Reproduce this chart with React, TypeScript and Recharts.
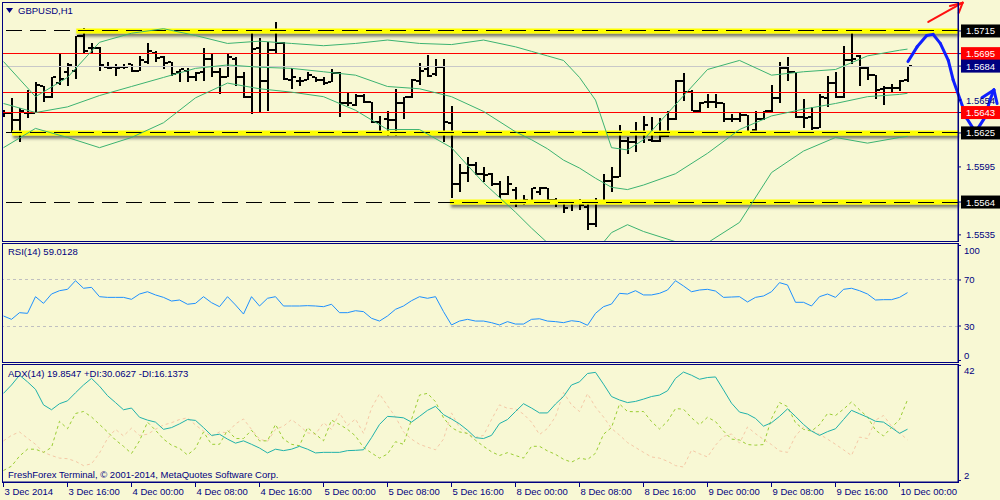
import React from "react";
import {
  ComposedChart,
  LineChart,
  Bar,
  Line,
  XAxis,
  YAxis,
  ReferenceLine,
} from "recharts";

// GBPUSD H1 bars, 3 Dec 08:00 .. 10 Dec 01:00
const barOpen = [
  1.5644, 1.5643, 1.5636, 1.5643, 1.5643, 1.5666, 1.5657, 1.5669, 1.5679, 1.568,
  1.5711, 1.57, 1.57, 1.5683, 1.5683, 1.5683, 1.5686, 1.568, 1.5688, 1.5696,
  1.5692, 1.5688, 1.5679, 1.568, 1.5674, 1.5679, 1.569, 1.5679, 1.5674, 1.569,
  1.5674, 1.5657, 1.57, 1.5671, 1.5698, 1.5704, 1.5672, 1.5671, 1.5672, 1.5674,
  1.5672, 1.567, 1.5678, 1.5651, 1.565, 1.5658, 1.5652, 1.5635, 1.5637, 1.5636,
  1.5651, 1.5657, 1.5671, 1.5681, 1.5677, 1.5683, 1.5634, 1.558, 1.559, 1.5597,
  1.5589, 1.5589, 1.558, 1.5571, 1.5575, 1.5565, 1.5564, 1.5573, 1.5576, 1.5566,
  1.5563, 1.5563, 1.5563, 1.556, 1.5545, 1.5564, 1.5583, 1.5586, 1.5618, 1.5617,
  1.5626, 1.5619, 1.5618, 1.5622, 1.5637, 1.5671, 1.5661, 1.5644, 1.5652, 1.5652,
  1.5651, 1.5637, 1.5637, 1.5641, 1.5628, 1.5637, 1.5644, 1.5656, 1.5682, 1.5679,
  1.5639, 1.5639, 1.5629, 1.5656, 1.5669, 1.5657, 1.5689, 1.5693, 1.5682, 1.5676,
  1.5664, 1.5665, 1.5665, 1.5672,
];
const barHigh = [
  1.5645, 1.5656, 1.5647, 1.5663, 1.567, 1.5666, 1.5674, 1.5696, 1.5687, 1.5711,
  1.5718, 1.5704, 1.5701, 1.5688, 1.5686, 1.5686, 1.5686, 1.5693, 1.5704, 1.5697,
  1.5693, 1.5688, 1.5681, 1.5682, 1.5679, 1.57, 1.5695, 1.5682, 1.5696, 1.5692,
  1.5679, 1.5715, 1.5709, 1.5705, 1.5723, 1.5705, 1.5682, 1.5674, 1.5679, 1.5674,
  1.5674, 1.5681, 1.5679, 1.566, 1.5659, 1.5659, 1.5652, 1.564, 1.5644, 1.5664,
  1.5657, 1.5673, 1.5687, 1.5694, 1.569, 1.569, 1.5649, 1.5598, 1.5604, 1.5599,
  1.5595, 1.559, 1.5583, 1.5587, 1.5577, 1.557, 1.5576, 1.5577, 1.5576, 1.5568,
  1.5564, 1.5564, 1.5567, 1.5562, 1.5568, 1.5589, 1.5595, 1.5632, 1.5621, 1.5635,
  1.564, 1.5639, 1.5638, 1.5644, 1.5672, 1.5678, 1.5663, 1.5652, 1.5659, 1.5659,
  1.5651, 1.5642, 1.5643, 1.5641, 1.5644, 1.5644, 1.5667, 1.5688, 1.5692, 1.5679,
  1.5655, 1.5648, 1.5659, 1.5675, 1.5679, 1.5702, 1.5715, 1.5694, 1.5683, 1.5676,
  1.5666, 1.5668, 1.5672, 1.5684,
];
const barLow = [
  1.5639, 1.5625, 1.5617, 1.5638, 1.5643, 1.5652, 1.5656, 1.5667, 1.5666, 1.5673,
  1.5696, 1.5695, 1.568, 1.5681, 1.5675, 1.5681, 1.5679, 1.568, 1.5686, 1.5688,
  1.5681, 1.5675, 1.567, 1.567, 1.5671, 1.5671, 1.5674, 1.5659, 1.5674, 1.5666,
  1.5656, 1.5642, 1.5643, 1.5644, 1.5696, 1.5672, 1.5664, 1.5666, 1.5672, 1.567,
  1.5667, 1.567, 1.5639, 1.5649, 1.5649, 1.5651, 1.5634, 1.5625, 1.5622, 1.5622,
  1.5637, 1.5656, 1.5667, 1.5674, 1.5675, 1.5617, 1.5568, 1.5573, 1.5582, 1.5588,
  1.5582, 1.5578, 1.5568, 1.557, 1.556, 1.5561, 1.5564, 1.557, 1.5565, 1.556,
  1.5554, 1.5556, 1.5557, 1.5539, 1.5542, 1.5563, 1.5573, 1.5586, 1.5606, 1.5608,
  1.5616, 1.5617, 1.5617, 1.5621, 1.5636, 1.5653, 1.5644, 1.5643, 1.5647, 1.5647,
  1.5635, 1.5635, 1.5635, 1.5624, 1.5626, 1.5636, 1.5643, 1.5651, 1.5671, 1.5638,
  1.5629, 1.5628, 1.5629, 1.5648, 1.5656, 1.5656, 1.5686, 1.5666, 1.5672, 1.5655,
  1.565, 1.566, 1.5662, 1.567,
];
const barClose = [
  1.5643, 1.5636, 1.5644, 1.5643, 1.5667, 1.5657, 1.5674, 1.5673, 1.5685, 1.5711,
  1.5697, 1.57, 1.5685, 1.5682, 1.5682, 1.5683, 1.568, 1.5689, 1.5697, 1.5691,
  1.5687, 1.5677, 1.5681, 1.5674, 1.5678, 1.569, 1.5679, 1.5674, 1.5692, 1.5674,
  1.5657, 1.5699, 1.5671, 1.5698, 1.5704, 1.5673, 1.5674, 1.5671, 1.5676, 1.5672,
  1.5669, 1.5678, 1.5651, 1.5651, 1.5658, 1.5652, 1.5635, 1.5626, 1.5636, 1.5651,
  1.5657, 1.5672, 1.568, 1.5675, 1.5683, 1.5635, 1.558, 1.559, 1.5597, 1.5589,
  1.5588, 1.558, 1.5571, 1.558, 1.5565, 1.5566, 1.5576, 1.5576, 1.5566, 1.5563,
  1.5559, 1.5563, 1.5561, 1.5545, 1.5564, 1.5583, 1.5586, 1.5618, 1.5617, 1.5626,
  1.5632, 1.5618, 1.5622, 1.5637, 1.5671, 1.5661, 1.5644, 1.5651, 1.5652, 1.5651,
  1.5637, 1.5637, 1.5641, 1.5626, 1.5637, 1.5644, 1.5656, 1.5682, 1.5679, 1.5639,
  1.5638, 1.5629, 1.5657, 1.5669, 1.5657, 1.5689, 1.569, 1.5682, 1.5676, 1.5663,
  1.5665, 1.5665, 1.5671, 1.5684,
];

// Bollinger bands, read at these bar indexes
const bbIndex = [
  0, 4, 8, 12, 16, 20, 24, 28, 32, 36, 40, 44, 48, 52, 56, 60, 64, 66, 68, 70,
  72, 74, 76, 78, 80, 84, 88, 92, 96, 100, 104, 108, 112, 113,
];
const bbUpper = [
  1.5688, 1.5657, 1.5674, 1.5705, 1.5713, 1.5717, 1.5711, 1.5704, 1.5706, 1.5704,
  1.5702, 1.5704, 1.5707, 1.5704, 1.5703, 1.5707, 1.5701, 1.5697, 1.5693, 1.5689,
  1.5674, 1.5654, 1.5612, 1.561, 1.5619, 1.565, 1.5681, 1.5689, 1.5676, 1.5679,
  1.5681, 1.5693, 1.5698, 1.5699,
];
const bbMiddle = [
  1.5651, 1.5643, 1.5648, 1.5658, 1.5666, 1.5674, 1.5682, 1.5685, 1.5683, 1.5682,
  1.5679, 1.5676, 1.5666, 1.5664, 1.5657, 1.5644, 1.5626, 1.5619, 1.5611, 1.5601,
  1.5594, 1.5585, 1.5577, 1.5575, 1.5579, 1.5589, 1.5607, 1.5628, 1.564, 1.5646,
  1.5651, 1.5657, 1.5659, 1.566,
];
const bbLower = [
  1.5612, 1.5629, 1.5621, 1.5612, 1.5621, 1.5634, 1.5656, 1.5669, 1.5664, 1.5661,
  1.5657, 1.5645, 1.5628, 1.5628, 1.5612, 1.5581, 1.5555, 1.5541, 1.5528, 1.5515,
  1.5506, 1.552, 1.5537, 1.5544, 1.5538, 1.5529, 1.5528, 1.5546, 1.559, 1.5609,
  1.5621, 1.5616, 1.5621, 1.5622,
];

const rsiValues = [
  38.7, 35.8, 41.6, 41.0, 55.5, 49.7, 57.8, 60.7, 61.9, 69.4,
  62.8, 63.6, 55.5, 54.9, 54.9, 54.9, 53.2, 57.8, 59.8, 57.0,
  54.9, 51.7, 52.6, 48.9, 49.7, 55.5, 50.3, 46.8, 55.5, 48.3,
  40.4, 55.5, 47.4, 54.1, 55.5, 47.4, 47.4, 47.4, 47.7, 47.4,
  46.8, 48.9, 41.6, 41.6, 43.3, 42.5, 36.7, 34.3, 38.7, 44.5,
  47.4, 52.0, 55.5, 54.1, 55.5, 42.5, 30.9, 34.3, 35.8, 34.3,
  34.3, 32.9, 30.9, 33.8, 31.7, 31.7, 35.8, 36.3, 34.3, 33.8,
  32.9, 34.6, 33.8, 30.6, 41.0, 46.8, 49.1, 58.4, 57.8, 60.7,
  57.0, 57.0, 58.4, 61.3, 69.4, 64.8, 59.8, 61.3, 61.9, 60.4,
  54.9, 55.2, 55.5, 50.9, 54.9, 56.1, 59.8, 67.7, 65.7, 50.6,
  50.6, 47.4, 55.5, 57.8, 54.9, 61.9, 62.8, 60.7, 57.8, 52.6,
  52.9, 52.9, 54.9, 59.01,
];

const adxValues = [
  32.3, 35.2, 38.6, 36.3, 33.7, 28.3, 26.6, 28.7, 29.7, 32.5,
  35.2, 37.5, 34.8, 31.5, 29.1, 26.6, 27.2, 24.0, 23.0, 22.3,
  19.8, 20.4, 21.7, 23.2, 22.9, 20.4, 17.7, 18.1, 16.4, 15.0,
  15.8, 14.6, 13.3, 11.6, 12.9, 12.4, 12.9, 13.9, 12.9, 11.6,
  11.8, 11.8, 11.8, 12.4, 12.5, 12.7, 16.9, 21.5, 24.3, 24.1,
  23.8, 22.3, 24.3, 26.4, 27.8, 24.9, 23.4, 21.7, 19.5, 16.9,
  16.6, 17.7, 21.8, 23.2, 26.0, 28.7, 27.2, 25.5, 25.5, 28.6,
  31.2, 35.2, 36.3, 39.2, 39.6, 35.5, 31.2, 30.0, 29.1, 29.5,
  30.3, 31.2, 31.7, 33.2, 37.5, 39.7, 38.6, 37.2, 37.8, 38.0,
  33.5, 28.9, 25.8, 25.1, 23.6, 20.9, 22.1, 24.3, 26.9, 24.3,
  21.5, 19.2, 17.7, 19.0, 20.0, 23.2, 26.4, 25.2, 24.0, 22.6,
  22.3, 20.4, 18.4, 19.85,
];
const plusDi = [
  5.5, 7.0, 10.5, 12.9, 12.9, 11.8, 13.5, 22.6, 20.0, 25.3,
  26.0, 24.1, 21.5, 18.9, 16.1, 13.9, 11.4, 15.8, 22.3, 19.5,
  16.4, 14.3, 13.2, 10.9, 13.2, 18.9, 14.6, 14.6, 19.5, 16.6,
  16.6, 19.5, 15.8, 15.8, 21.5, 16.4, 14.6, 14.1, 20.4, 18.1,
  15.8, 23.0, 21.5, 19.8, 17.5, 13.5, 11.6, 9.8, 11.2, 15.5,
  14.6, 23.2, 31.7, 32.3, 29.4, 23.8, 20.4, 18.9, 18.4, 16.0,
  13.9, 12.0, 10.7, 11.7, 10.7, 9.8, 13.9, 13.9, 12.3, 11.1,
  9.4, 8.4, 9.8, 9.3, 11.5, 18.1, 20.4, 28.6, 26.0, 25.9,
  26.0, 22.5, 19.9, 22.6, 27.0, 26.8, 23.8, 21.4, 24.0, 22.5,
  19.2, 16.4, 16.1, 14.5, 14.3, 14.5, 23.5, 29.1, 27.7, 22.1,
  19.8, 19.2, 21.4, 25.3, 24.6, 26.8, 29.3, 26.6, 24.1, 19.5,
  17.5, 20.4, 23.2, 30.06,
];
const minusDi = [
  15.8, 17.7, 18.9, 16.7, 14.6, 11.8, 10.7, 9.8, 9.6, 8.7,
  7.2, 7.8, 11.6, 16.6, 19.8, 17.5, 20.2, 17.7, 18.1, 19.8,
  21.3, 22.1, 23.2, 23.8, 21.3, 19.2, 17.3, 18.9, 18.6, 21.7,
  23.4, 19.8, 16.4, 15.6, 19.8, 20.9, 23.2, 21.1, 18.6, 18.1,
  22.1, 19.8, 25.5, 21.1, 23.4, 18.4, 27.2, 32.1, 28.0, 24.1,
  18.9, 16.4, 14.6, 13.6, 12.7, 16.4, 25.5, 20.4, 18.1, 17.0,
  17.7, 23.2, 28.3, 27.1, 26.9, 25.1, 22.3, 18.0, 20.1, 24.2,
  32.6, 28.3, 26.0, 32.2, 27.5, 24.1, 20.1, 17.8, 15.2, 13.5,
  11.8, 10.2, 9.8, 8.7, 7.2, 6.7, 12.6, 11.3, 10.2, 14.3,
  17.3, 18.2, 15.0, 20.6, 18.3, 16.3, 14.5, 12.3, 11.8, 17.5,
  20.6, 19.4, 18.1, 16.4, 14.6, 12.7, 10.7, 17.1, 16.6, 23.0,
  24.6, 20.9, 18.6, 16.14,
];

// horizontal levels drawn on the price panel
const bandPrices = [1.5715, 1.5625, 1.5564];
const bandStarts = [9.1, 1.06, 55.8];
const redLevels = [1.5695, 1.5661, 1.5643];
const bidPrice = 1.5684;

const priceTicks = [1.5715, 1.5695, 1.5684, 1.5654, 1.5643, 1.5625, 1.5595, 1.5564, 1.5535];
const priceTickKind = ["black", "red", "navy", "plain", "red", "black", "plain", "black", "plain"];

const timeTickIdx = [0, 8, 16, 24, 32, 40, 48, 56, 64, 72, 80, 88, 96, 104, 112];
const timeLabels = [
  "3 Dec 2014", "3 Dec 16:00", "4 Dec 00:00", "4 Dec 08:00", "4 Dec 16:00",
  "5 Dec 00:00", "5 Dec 08:00", "5 Dec 16:00", "8 Dec 00:00", "8 Dec 08:00",
  "8 Dec 16:00", "9 Dec 00:00", "9 Dec 08:00", "9 Dec 16:00", "10 Dec 00:00",
];

// hand drawn forecast (bar index, price)
const sketchBlueIdx = [113.06, 114.2, 115.4, 116.2, 117.1, 118.1, 118.7, 119.6, 120.4, 121.2, 121.8, 122.7, 123.3, 123.8];
const sketchBluePrice = [1.5688, 1.5701, 1.5711, 1.5712, 1.5704, 1.5689, 1.5672, 1.5654, 1.5638, 1.5629, 1.5629, 1.5639, 1.5654, 1.5663];
const sketchBlueHeadIdx = [122.3, 124.2];
const sketchBlueHeadPrice = [1.5656, 1.5651];
const sketchRedIdx = [115.6, 119.9];
const sketchRedPrice = [1.5723, 1.574];
const sketchRedHeadIdx = [118.3, 119.4];
const sketchRedHeadPrice = [1.5737, 1.5731];

const BG = "#f8f8d4";
const NAVY = "#000080";
const FONT = "'Liberation Sans', Arial, sans-serif";
const X_DOMAIN: [number, number] = [-0.1875, 119.3125];

const bars = barOpen.map((open, i) => ({
  i,
  open,
  high: barHigh[i],
  low: barLow[i],
  close: barClose[i],
  range: [barLow[i], barHigh[i]],
  bbUp: null as number | null,
  bbMid: null as number | null,
  bbLow: null as number | null,
}));
bbIndex.forEach((idx, k) => {
  bars[idx].bbUp = bbUpper[k];
  bars[idx].bbMid = bbMiddle[k];
  bars[idx].bbLow = bbLower[k];
});

const rsiData = rsiValues.map((rsi, i) => ({ i, rsi }));
const adxData = adxValues.map((adx, i) => ({ i, adx, pdi: plusDi[i], mdi: minusDi[i] }));

const OhlcBar = (props: any) => {
  const { x, y, width, height, payload } = props;
  if (x == null || y == null || !payload) return null;
  const cx = Math.round(x + width / 2);
  const span = payload.high - payload.low || 1;
  const yAt = (v: number) => Math.round(y + ((payload.high - v) / span) * height);
  return (
    <g stroke="#000" shapeRendering="crispEdges">
      <line x1={cx} x2={cx} y1={y} y2={y + height} strokeWidth={2} />
      <line x1={cx - 4} x2={cx - 1} y1={yAt(payload.open)} y2={yAt(payload.open)} strokeWidth={2} />
      <line x1={cx + 1} x2={cx + 4} y1={yAt(payload.close)} y2={yAt(payload.close)} strokeWidth={2} />
    </g>
  );
};

const PriceTick = (props: any) => {
  const { x, y, payload } = props;
  const kind = priceTickKind[priceTicks.indexOf(payload.value)];
  const fill =
    kind === "black" ? "#000" : kind === "red" ? "#ff0000" : kind === "navy" ? NAVY : null;
  return (
    <g>
      {fill && <rect x={x - 2} y={y - 6.5} width={40} height={13} fill={fill} />}
      <text x={x + 3} y={y + 3.5} fill={fill ? "#fff" : NAVY} fontSize={9.5} fontFamily={FONT}>
        {Number(payload.value).toFixed(4)}
      </text>
    </g>
  );
};

const LevelTick = (props: any) => {
  const { x, y, payload, hi, lo } = props;
  const shift = payload.value === hi ? 5 : payload.value === lo ? -5 : 0;
  return (
    <text x={x + 1} y={y + shift + 3.5} fill={NAVY} fontSize={9.5} fontFamily={FONT}>
      {payload.value}
    </text>
  );
};

const TimeTick = (props: any) => {
  const { x, y, payload } = props;
  const label = timeLabels[timeTickIdx.indexOf(payload.value)];
  return (
    <g>
      <line x1={x} x2={x} y1={y} y2={y + 5} stroke={NAVY} />
      <text x={x + 1} y={y + 13} fill={NAVY} fontSize={9.5} fontFamily={FONT}>
        {label}
      </text>
    </g>
  );
};

const pairs = (xs: number[], ys: number[]) =>
  xs.slice(1).map((x, k) => [
    { x: xs[k], y: ys[k] },
    { x, y: ys[k + 1] },
  ]);

const heads = (tipX: number, tipY: number, xs: number[], ys: number[]) =>
  xs.map((x, k) => [
    { x: tipX, y: tipY },
    { x, y: ys[k] },
  ]);

const label = (top: number, text: string) => (
  <div
    style={{
      position: "absolute",
      left: 8,
      top,
      fontFamily: FONT,
      fontSize: 9.5,
      color: NAVY,
      whiteSpace: "nowrap",
    }}
  >
    {text}
  </div>
);

const panel = (top: number, height: number) => (
  <div
    style={{
      position: "absolute",
      left: 2,
      top,
      width: 957,
      height,
      boxSizing: "border-box",
      border: `1px solid ${NAVY}`,
      pointerEvents: "none",
    }}
  />
);

export default function App() {
  const blueSegs = [
    ...pairs(sketchBlueIdx, sketchBluePrice),
    ...heads(sketchBlueIdx[sketchBlueIdx.length - 1], sketchBluePrice[sketchBluePrice.length - 1], sketchBlueHeadIdx, sketchBlueHeadPrice),
  ];
  const redSegs = [
    ...pairs(sketchRedIdx, sketchRedPrice),
    ...heads(sketchRedIdx[1], sketchRedPrice[1], sketchRedHeadIdx, sketchRedHeadPrice),
  ];

  return (
    <div
      style={{
        position: "absolute",
        left: 0,
        top: 0,
        width: 1000,
        height: 500,
        background: BG,
        overflow: "hidden",
      }}
    >
      <div style={{ position: "absolute", left: 0, top: 0 }}>
        <ComposedChart
          width={1000}
          height={242}
          data={bars}
          margin={{ top: 3, right: 0, bottom: 1, left: 2 }}
        >
          <defs>
            <filter id="bandShadow" filterUnits="userSpaceOnUse" x="0" y="0" width="1000" height="260">
              <feDropShadow dx="1" dy="3" stdDeviation="1.5" floodColor="#000" floodOpacity="0.5" />
            </filter>
          </defs>
          <XAxis type="number" dataKey="i" domain={X_DOMAIN} allowDataOverflow hide />
          <YAxis
            orientation="right"
            width={42}
            domain={[1.55296, 1.57397]}
            allowDataOverflow
            ticks={priceTicks}
            interval={0}
            tick={<PriceTick />}
            tickSize={3}
            tickMargin={2}
            axisLine={{ stroke: NAVY }}
            tickLine={{ stroke: NAVY }}
          />
          {bandPrices.map((p, k) => (
            <ReferenceLine
              key={`band${k}`}
              segment={[
                { x: bandStarts[k], y: p },
                { x: X_DOMAIN[1], y: p },
              ]}
              stroke="#ffff00"
              strokeWidth={5}
              filter="url(#bandShadow)"
              ifOverflow="visible"
            />
          ))}
          {bandPrices.map((p, k) => (
            <ReferenceLine
              key={`dash${k}`}
              y={p}
              stroke="#000"
              strokeDasharray="16 8"
              shapeRendering="crispEdges"
            />
          ))}
          {redLevels.map((p, k) => (
            <ReferenceLine key={`red${k}`} y={p} stroke="#ff0000" shapeRendering="crispEdges" />
          ))}
          <ReferenceLine y={bidPrice} stroke="#c8c8c8" shapeRendering="crispEdges" />
          <Line dataKey="bbUp" stroke="#3cb371" dot={false} connectNulls isAnimationActive={false} />
          <Line dataKey="bbMid" stroke="#3cb371" dot={false} connectNulls isAnimationActive={false} />
          <Line dataKey="bbLow" stroke="#3cb371" dot={false} connectNulls isAnimationActive={false} />
          <Bar dataKey="range" barSize={6} shape={<OhlcBar />} isAnimationActive={false} />
          {blueSegs.map((seg, k) => (
            <ReferenceLine
              key={`blue${k}`}
              segment={seg}
              stroke="#1020ff"
              strokeWidth={3}
              strokeLinecap="round"
              ifOverflow="visible"
            />
          ))}
          {redSegs.map((seg, k) => (
            <ReferenceLine
              key={`redarrow${k}`}
              segment={seg}
              stroke="#ff1010"
              strokeWidth={2}
              strokeLinecap="round"
              ifOverflow="visible"
            />
          ))}
        </ComposedChart>
      </div>

      <div style={{ position: "absolute", left: 0, top: 243 }}>
        <LineChart
          width={1000}
          height={120}
          data={rsiData}
          margin={{ top: 1, right: 0, bottom: 1, left: 2 }}
        >
          <XAxis type="number" dataKey="i" domain={X_DOMAIN} allowDataOverflow hide />
          <YAxis
            orientation="right"
            width={42}
            domain={[-1.3, 101.3]}
            ticks={[0, 30, 70, 100]}
            interval={0}
            tick={(p: any) => <LevelTick {...p} hi={100} lo={0} />}
            tickSize={3}
            tickMargin={2}
            axisLine={{ stroke: NAVY }}
            tickLine={{ stroke: NAVY }}
          />
          <ReferenceLine y={70} stroke="#c0c0c0" strokeDasharray="3 3" shapeRendering="crispEdges" />
          <ReferenceLine y={30} stroke="#c0c0c0" strokeDasharray="3 3" shapeRendering="crispEdges" />
          <Line dataKey="rsi" stroke="#1e90ff" dot={false} isAnimationActive={false} />
        </LineChart>
      </div>

      <div style={{ position: "absolute", left: 0, top: 363 }}>
        <LineChart
          width={1000}
          height={137}
          data={adxData}
          margin={{ top: 1, right: 0, bottom: 0, left: 2 }}
        >
          <XAxis
            type="number"
            dataKey="i"
            domain={X_DOMAIN}
            allowDataOverflow
            ticks={timeTickIdx}
            interval={0}
            tick={<TimeTick />}
            tickLine={false}
            tickSize={0}
            tickMargin={0}
            height={18}
            axisLine={{ stroke: NAVY }}
          />
          <YAxis
            orientation="right"
            width={42}
            domain={[1.5, 42.5]}
            ticks={[2, 42]}
            interval={0}
            tick={(p: any) => <LevelTick {...p} hi={42} lo={2} />}
            tickSize={3}
            tickMargin={2}
            axisLine={{ stroke: NAVY }}
            tickLine={{ stroke: NAVY }}
          />
          <Line dataKey="mdi" stroke="#f5c8a6" strokeDasharray="3 3" dot={false} isAnimationActive={false} />
          <Line dataKey="pdi" stroke="#9acd32" strokeDasharray="3 3" dot={false} isAnimationActive={false} />
          <Line dataKey="adx" stroke="#20b2aa" dot={false} isAnimationActive={false} />
        </LineChart>
      </div>

      {panel(2, 240)}
      {panel(243, 120)}
      {panel(364, 119)}

      <svg style={{ position: "absolute", left: 6, top: 8 }} width={8} height={6}>
        <polygon points="0,0 7,0 3.5,5" fill={NAVY} />
      </svg>
      <div
        style={{
          position: "absolute",
          left: 18,
          top: 5,
          fontFamily: FONT,
          fontSize: 9.5,
          color: NAVY,
        }}
      >
        GBPUSD,H1
      </div>
      {label(246, "RSI(14) 59.0128")}
      {label(368, "ADX(14) 19.8547 +DI:30.0627 -DI:16.1373")}
      {label(469, "FreshForex Terminal, © 2001-2014, MetaQuotes Software Corp.")}
    </div>
  );
}
